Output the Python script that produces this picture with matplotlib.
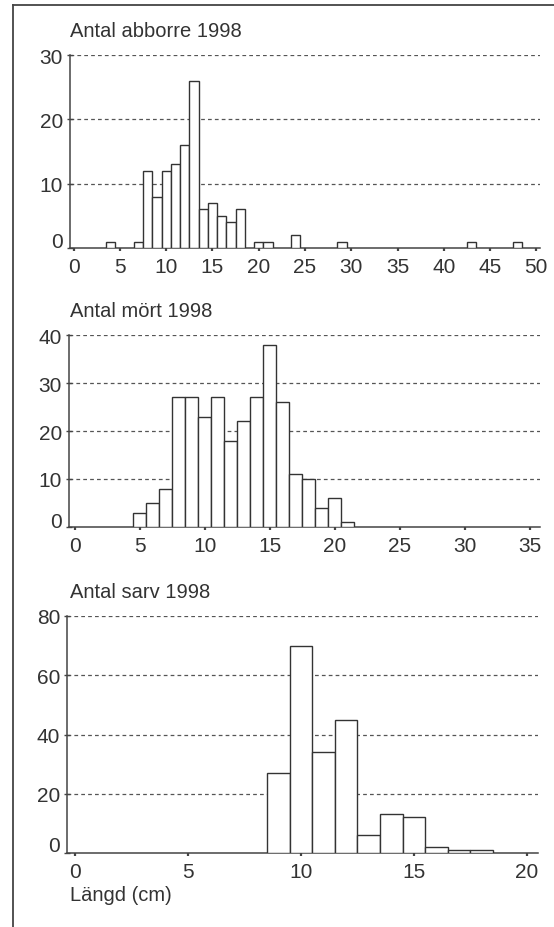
import matplotlib
matplotlib.use("Agg")
import matplotlib.pyplot as plt
from matplotlib.lines import Line2D
from matplotlib.transforms import ScaledTranslation

# abborre (perch) 1998
abborre_len = [4, 7, 8, 9, 10, 11, 12, 13, 14, 15, 16, 17, 18, 20, 21, 24, 29, 43, 48]
abborre_n = [1, 1, 12, 8, 12, 13, 16, 26, 6, 7, 5, 4, 6, 1, 1, 2, 1, 1, 1]

# mört (roach) 1998
mort_len = [5, 6, 7, 8, 9, 10, 11, 12, 13, 14, 15, 16, 17, 18, 19, 20, 21]
mort_n = [3, 5, 8, 27, 27, 23, 27, 18, 22, 27, 38, 26, 11, 10, 4, 6, 1]

# sarv (rudd) 1998
sarv_len = [9, 10, 11, 12, 13, 14, 15, 16, 17, 18]
sarv_n = [27, 70, 34, 45, 6, 13, 12, 2, 1, 1]

titles = ["Antal abborre 1998", "Antal mört 1998", "Antal sarv 1998"]
xlabel = "Längd (cm)"

plt.rcParams["font.family"] = ["Liberation Sans", "DejaVu Sans"]
TXT = "#333333"
LINE = "#444444"

W, H = 554, 928
fig = plt.figure(figsize=(W / 100, H / 100), dpi=100)
fig.patch.set_facecolor("white")


def px_axes(left, right, top, bottom):
    return fig.add_axes([left / W, 1 - bottom / H, (right - left) / W, (bottom - top) / H])


panels = [
    # data, axes box (px), xlim, ylim top, xticks, yticks, title baseline y, zero-label lift
    (abborre_len, abborre_n, (70, 540, 56, 249), (-0.4, 50.4), 30, range(0, 51, 5), range(0, 31, 10), 37, 8),
    (mort_len, mort_n, (69, 540, 336, 528), (-0.45, 35.8), 40, range(0, 36, 5), range(0, 41, 10), 317, 8),
    (sarv_len, sarv_n, (67, 538, 617, 854), (-0.37, 20.5), 80, range(0, 21, 5), range(0, 81, 20), 598, 9),
]

for i, (xs, ys, box, xlim, ytop, xt, yt, ty, lift) in enumerate(panels):
    ax = px_axes(*box)
    ax.bar(xs, ys, width=1.0, color="white", edgecolor=TXT, linewidth=1.0, zorder=3)
    ax.set_xlim(*xlim)
    ax.set_ylim(0, ytop)
    ax.set_xticks(list(xt))
    ax.set_yticks(list(yt))
    for y in list(yt)[1:]:
        ax.axhline(y, color="#555555", linewidth=0.9, linestyle=(0, (3, 2.5)), zorder=1)
    for s in ["top", "right"]:
        ax.spines[s].set_visible(False)
    for s in ["left", "bottom"]:
        ax.spines[s].set_color(LINE)
        ax.spines[s].set_linewidth(1.1)
    ax.tick_params(axis="y", direction="inout", length=4, width=1.0, color=LINE,
                   labelsize=15, labelcolor=TXT, pad=3)
    ax.tick_params(axis="x", direction="out", length=2.5, width=1.6, color=LINE,
                   labelsize=15, labelcolor=TXT, pad=4)
    ax.patch.set_alpha(0)
    # the "0" on the y axis sits a bit higher than its tick
    zero = ax.get_yticklabels()[0]
    zero.set_transform(zero.get_transform() + ScaledTranslation(0, lift / 100, fig.dpi_scale_trans))
    fig.text(70 / W, 1 - ty / H, titles[i], fontsize=14.5, color=TXT, va="baseline", ha="left")

fig.text(70 / W, 1 - 901 / H, xlabel, fontsize=14.5, color=TXT, va="baseline", ha="left")

# frame around the figure (left and top edges)
fig.add_artist(Line2D([13 / W, 13 / W], [0, 1 - 6 / H], color=LINE, linewidth=1.3))
fig.add_artist(Line2D([13 / W, 1], [1 - 6 / H, 1 - 6 / H], color=LINE, linewidth=1.3))

fig.savefig("out.png", dpi=100, facecolor="white")
